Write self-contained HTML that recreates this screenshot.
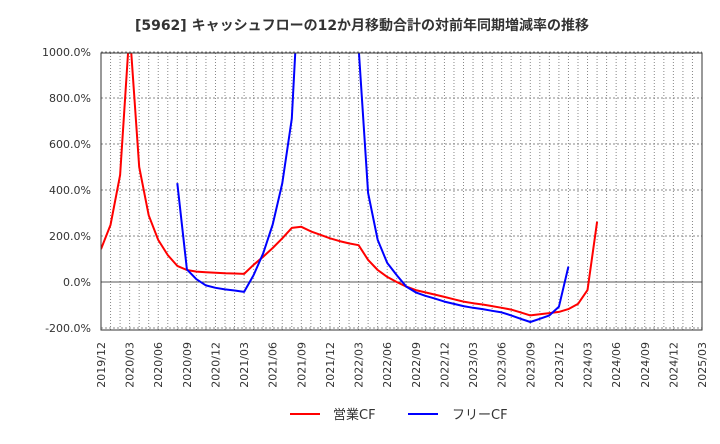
<!DOCTYPE html>
<html><head><meta charset="utf-8">
<style>
body{margin:0;background:#fff;font-family:"DejaVu Sans","Noto Sans CJK JP",sans-serif;}
svg text{font-family:"DejaVu Sans","Noto Sans CJK JP",sans-serif;}
</style></head>
<body>
<svg id="chart" width="720" height="440">
<text x="362" y="30" text-anchor="middle" font-size="14" font-weight="bold" fill="#333">[5962]  キャッシュフローの12か月移動合計の対前年同期増減率の推移</text>
<defs><clipPath id="pc"><rect x="101" y="53" width="601" height="277"/></clipPath></defs>
<g id="grid"></g>
<g id="series" clip-path="url(#pc)"></g>
<rect x="101" y="53" width="601" height="277" fill="none" stroke="#333" stroke-width="1"/>
<g id="labels"></g>
<g>
<line x1="290" y1="414" x2="320" y2="414" stroke="#f00" stroke-width="2"/>
<text x="333" y="419" font-size="13" fill="#333">営業CF</text>
<line x1="408" y1="414" x2="438" y2="414" stroke="#00f" stroke-width="2"/>
<text x="452" y="419" font-size="13" fill="#333">フリーCF</text>
</g>
</svg>
<script>
const yTicks=[1000,800,600,400,200,0,-200];
const yTickLabels=["1000.0%","800.0%","600.0%","400.0%","200.0%","0.0%","-200.0%"];
const xTickLabels=["2019/12","2020/03","2020/06","2020/09","2020/12","2021/03","2021/06","2021/09","2021/12","2022/03","2022/06","2022/09","2022/12","2023/03","2023/06","2023/09","2023/12","2024/03","2024/06","2024/09","2024/12","2025/03"];
const operatingCF=[143,248,465,1100,500,290,183,117,70,52,45,42,40,38,37,35,75,110,148,190,235,240,220,205,190,178,168,160,96,52,22,0,-20,-35,-45,-55,-65,-75,-85,-92,-98,-105,-112,-120,-132,-145,-140,-135,-130,-118,-95,-35,262];
const freeCF=[null,null,null,null,null,null,null,null,430,55,12,-15,-25,-32,-37,-43,30,125,250,430,710,1500,3000,3000,3000,3000,3000,1020,387,183,83,30,-20,-45,-60,-72,-85,-95,-105,-112,-118,-125,-132,-145,-160,-174,-160,-145,-108,67];
const NS='http://www.w3.org/2000/svg';
const X0=101,X1=702,months=63,Y0=282,pxPer=46/200;
const xs=i=>X0+i*(X1-X0)/months;
const ys=v=>Y0-v*pxPer;
const grid=document.getElementById('grid'),lab=document.getElementById('labels'),ser=document.getElementById('series');
function mk(t,a,p){const e=document.createElementNS(NS,t);for(const k in a)e.setAttribute(k,a[k]);p.appendChild(e);return e;}
for(let i=1;i<months;i++){
 const l=mk('line',{x1:xs(i),x2:xs(i),y1:53,y2:330,stroke:'#888','stroke-dasharray':'1,2','stroke-width':1},grid);
 
 
}
yTicks.forEach((v,k)=>{
 const l=mk('line',{x1:X0,x2:X1,y1:ys(v),y2:ys(v),stroke:v===0?'#555':'#888','stroke-dasharray':v===0?'none':'2,2','stroke-width':1},grid);
 
 
 const t=mk('text',{x:91,y:ys(v)+4,'text-anchor':'end','font-size':11,fill:'#333'},lab);
 t.textContent=yTickLabels[k];
 
 
});
xTickLabels.forEach((s,k)=>{
 const x=xs(k*3);
 const t=mk('text',{x:0,y:0,'text-anchor':'end','font-size':11,fill:'#333',transform:`translate(${x+4},342) rotate(-90)`},lab);
 t.textContent=s;
 
 
});
function path(arr,color,name){
 let d='',pen=false;
 arr.forEach((v,i)=>{if(v===null){pen=false;return;}d+=(pen?'L':'M')+xs(i).toFixed(1)+','+ys(v).toFixed(1);pen=true;});
 const p=mk('path',{d:d,fill:'none',stroke:color,'stroke-width':2,'stroke-linejoin':'round'},ser);
 
 
}
path(operatingCF,'#f00','operating-cf-line');
path(freeCF,'#00f','free-cf-line');
</script>
</body></html>
